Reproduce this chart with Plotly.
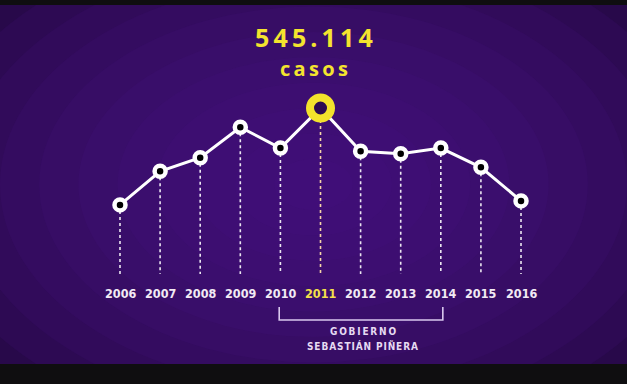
import plotly.graph_objects as go

years = [2006, 2007, 2008, 2009, 2010, 2011, 2012, 2013, 2014, 2015, 2016]
casos = [424000, 466000, 483000, 521000, 495000, 545114, 491000, 488000, 495000, 471000, 429000]
year_labels = [str(y) for y in years]
highlight_year = 2011
headline = "545.114"
headline_sub = "casos"
gov_start, gov_end = 2010, 2014
gov_label = ["GOBIERNO", "SEBASTIÁN PIÑERA"]

# value scale used for layout (drop lines end / label positions)
y_top, y_bot = 673864, 225114
per_px = (y_top - y_bot) / 359.0
def py(px):  # pixel row in figure -> data value
    return y_top - (px - 5) * per_px

base_val = py(274)
label_val = py(293)

fig = go.Figure()

# gradient background
shapes = []
n = 12
for i in range(n):
    f = 1 - i / n
    rx, ry = 0.75 * f, 0.85 * f
    cx, cy = 0.5, 0.5
    shapes.append(dict(type="circle", xref="paper", yref="paper",
                       x0=cx - rx, x1=cx + rx, y0=cy - ry, y1=cy + ry,
                       fillcolor="rgba(76,18,132,0.15)", line=dict(width=0), layer="below"))
# dark frame strips top and bottom
shapes.append(dict(type="rect", xref="paper", yref="paper", x0=-0.01, x1=1.01,
                   y0=1, y1=1 + 6 / 359.0, fillcolor="#0f0e10", line=dict(width=0), layer="above"))
shapes.append(dict(type="rect", xref="paper", yref="paper", x0=-0.01, x1=1.01,
                   y0=-21 / 359.0, y1=0, fillcolor="#0f0e10", line=dict(width=0), layer="above"))

# drop lines
dx, dy = [], []
for x, v in zip(years, casos):
    if x == highlight_year:
        continue
    dx += [x, x, None]
    dy += [v, base_val, None]
fig.add_trace(go.Scatter(x=dx, y=dy, mode="lines", hoverinfo="skip",
                         line=dict(color="rgba(255,255,255,0.9)", width=1.6, dash="3px,3px")))
hv = casos[years.index(highlight_year)]
fig.add_trace(go.Scatter(x=[highlight_year, highlight_year], y=[hv, base_val], mode="lines",
                         hoverinfo="skip",
                         line=dict(color="#f6d6a8", width=1.6, dash="3px,3px")))

# main line
fig.add_trace(go.Scatter(x=years, y=casos, mode="lines",
                         line=dict(color="white", width=3)))
mx = [x for x in years if x != highlight_year]
my = [v for x, v in zip(years, casos) if x != highlight_year]
fig.add_trace(go.Scatter(x=mx, y=my, mode="markers",
                         marker=dict(size=11, color="black", line=dict(color="white", width=4.5))))
fig.add_trace(go.Scatter(x=[highlight_year], y=[hv], mode="markers",
                         marker=dict(size=21, color="#2c0a52", line=dict(color="#f3e22c", width=8))))

cond = "DejaVu Sans Condensed, Liberation Sans Narrow, sans-serif"

# year labels
ann = []
for x, t in zip(years, year_labels):
    ann.append(dict(x=x, y=label_val, xref="x", yref="y", text="<b>" + t + "</b>", showarrow=False,
                    yanchor="middle",
                    font=dict(family=cond, size=12.5,
                              color="#f4e04a" if x == highlight_year else "#f2eaf4")))

# headline
ann.append(dict(x=0.5, y=1 - (37 - 5) / 359.0, xref="paper", yref="paper", yanchor="middle",
                text="<b>" + "\u2009".join(headline) + "</b>", borderpad=0,
                showarrow=False, font=dict(family="Open Sans, sans-serif", size=25, color="#f4e42e")))
ann.append(dict(x=0.5, y=1 - (68 - 5) / 359.0, xref="paper", yref="paper", yanchor="middle",
                text="<b>" + "\u2009".join(headline_sub) + "</b>", borderpad=0,
                showarrow=False, font=dict(family="Open Sans, sans-serif", size=20, color="#f4e42e")))

# government bracket
bx0, bx1 = gov_start - 0.03, gov_end + 0.05
shapes.append(dict(type="path", xref="x", yref="y",
                   path=f"M {bx0},{py(307)} L {bx0},{py(320)} L {bx1},{py(320)} L {bx1},{py(307)}",
                   line=dict(color="#d9c8ee", width=1.6)))
ann.append(dict(x=(gov_start + gov_end) / 2 + 0.05, y=py(331), xref="x", yref="y", yanchor="middle",
                text="<b>" + "\u2009".join(gov_label[0]) + "</b>", showarrow=False,
                font=dict(family=cond, size=10, color="#e6daf2")))
ann.append(dict(x=(gov_start + gov_end) / 2 + 0.05, y=py(346), xref="x", yref="y", yanchor="middle",
                text="<b>" + "\u200a".join(gov_label[1]) + "</b>", showarrow=False,
                font=dict(family=cond, size=10, color="#e6daf2")))

fig.update_layout(
    width=627, height=384,
    margin=dict(l=0, r=0, t=5, b=20),
    paper_bgcolor="#0f0e10", plot_bgcolor="#1d0734",
    showlegend=False,
    shapes=shapes, annotations=ann,
    xaxis=dict(range=[2003.0075, 2018.643], visible=False, fixedrange=True),
    yaxis=dict(range=[y_bot, y_top], visible=False, fixedrange=True),
)

fig.write_html("out.html", config={"displayModeBar": False},
               post_script="document.body.style.margin='0';document.body.style.overflow='hidden';")
